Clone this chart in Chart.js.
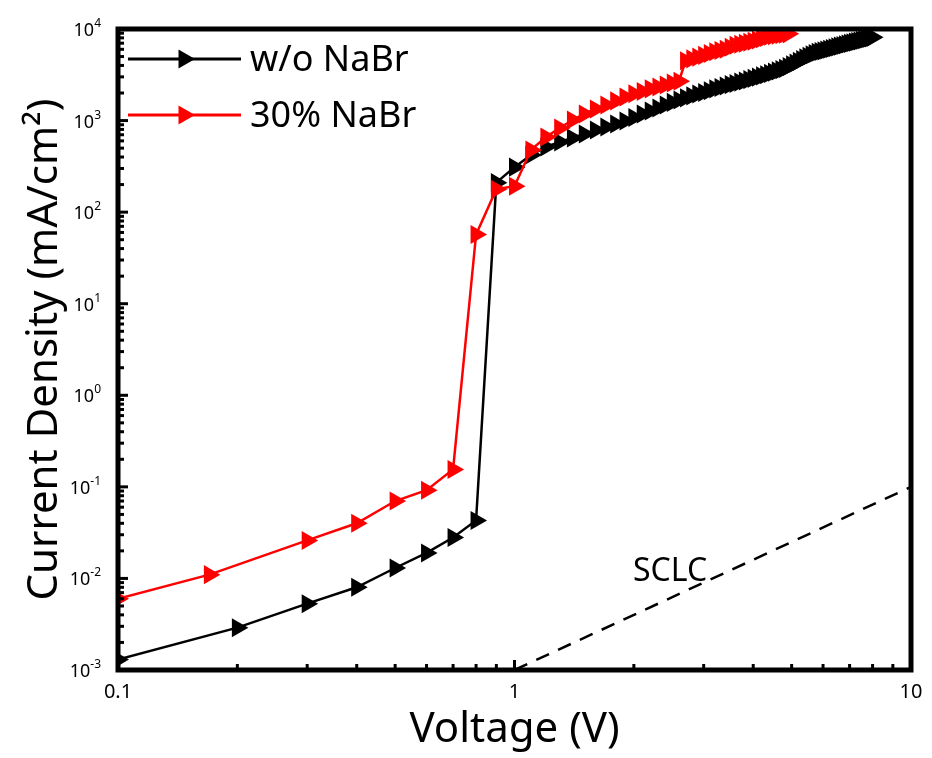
<!DOCTYPE html>
<html>
<head>
<meta charset="utf-8">
<script src="https://cdn.jsdelivr.net/npm/chart.js@4.4.0/dist/chart.umd.min.js"></script>
<style>
  html, body { margin: 0; padding: 0; background: #fff; }
  canvas { display: block; }
</style>
</head>
<body>
<canvas id="jvChart" width="932" height="758"></canvas>
<script>
// J-V curves, voltage in V, current density in mA/cm2
const voltageRef = [
  0.1, 0.2, 0.3, 0.4, 0.5, 0.6, 0.7, 0.8, 0.9,
  1.0, 1.1, 1.2, 1.3, 1.4, 1.5, 1.6, 1.7, 1.8, 1.9,
  2.0, 2.1, 2.2, 2.3, 2.4, 2.5, 2.6, 2.7, 2.8, 2.9,
  3.0, 3.1, 3.2, 3.3, 3.4, 3.5, 3.6, 3.7, 3.8, 3.9,
  4.0, 4.1, 4.2, 4.3, 4.4, 4.5, 4.6, 4.7, 4.8, 4.9,
  5.0, 5.1, 5.2, 5.3, 5.4, 5.5, 5.6, 5.7, 5.8, 5.9,
  6.0, 6.1, 6.2, 6.3, 6.4, 6.5, 6.6, 6.7, 6.8, 6.9,
  7.0, 7.1, 7.2, 7.3, 7.4, 7.5, 7.6, 7.7, 7.8, 7.9,
  8.0
];
const currentRef = [
  0.0013, 0.0029, 0.0053, 0.0080, 0.013, 0.019, 0.028, 0.043, 210,
  310, 420, 515, 583, 645, 714, 789, 851, 918, 991,
  1080, 1180, 1270, 1370, 1480, 1580, 1680, 1770, 1860, 1950,
  2030, 2120, 2220, 2300, 2390, 2470, 2545, 2630, 2710, 2800,
  2890, 2980, 3075, 3170, 3275, 3380, 3490, 3600, 3715, 3880,
  4060, 4240, 4430, 4640, 4845, 5030, 5220, 5390, 5560, 5670,
  5770, 5890, 6010, 6130, 6250, 6380, 6500, 6620, 6740, 6850,
  6970, 7080, 7190, 7300, 7410, 7520, 7640, 7760, 7880, 8000,
  8110
];

const voltageNaBr = [
  0.1, 0.17, 0.3, 0.4, 0.5, 0.6, 0.7, 0.8, 0.9,
  1.0, 1.1, 1.2, 1.3, 1.4, 1.5, 1.6, 1.7, 1.8, 1.9,
  2.0, 2.1, 2.2, 2.3, 2.4, 2.5, 2.6, 2.7, 2.8, 2.9,
  3.0, 3.1, 3.2, 3.3, 3.4, 3.5, 3.6, 3.7, 3.8, 3.9,
  4.0, 4.1, 4.2, 4.3, 4.4, 4.5, 4.6, 4.7, 4.8, 4.9
];
const currentNaBr = [
  0.0060, 0.011, 0.026, 0.040, 0.070, 0.092, 0.155, 57, 178,
  192, 477, 662, 830, 1015, 1180, 1340, 1480, 1640, 1810,
  1960, 2080, 2220, 2330, 2450, 2570, 2690, 4490, 4720, 4930,
  5150, 5390, 5630, 5810, 6000, 6310, 6630, 6800, 6980, 7160,
  7340, 7580, 7820, 8070, 8320, 8430, 8540, 8650, 8750, 8850
];

// SCLC guide line (J ~ V^2)
const sclcVoltage = [1, 10];
const sclcCurrent = [0.001, 0.1];

const seriesNames = ['w/o NaBr', '30% NaBr'];
const seriesColors = ['#000000', '#ff0000'];
const xTickValues = [0.1, 1, 10];
const xTickLabels = ['0.1', '1', '10'];
const yTickExponents = [-3, -2, -1, 0, 1, 2, 3, 4];

const FONT = "'Noto Sans', 'Open Sans', sans-serif";

function toPoints(xs, ys) {
  return xs.map((v, i) => ({ x: v, y: ys[i] }));
}

function triangle(ctx, x, y, r) {
  ctx.beginPath();
  ctx.moveTo(x + r, y);
  ctx.lineTo(x - r / 2, y - r * 0.866);
  ctx.lineTo(x - r / 2, y + r * 0.866);
  ctx.closePath();
  ctx.fill();
}

// frame, inward ticks, tick labels, legend and the SCLC note
const decorations = {
  id: 'decorations',
  afterDatasetsDraw(chart) {
    const { ctx, chartArea: a, scales: { x, y } } = chart;
    ctx.save();
    ctx.strokeStyle = '#000';
    ctx.fillStyle = '#000';
    ctx.lineWidth = 3;

    for (let e = -1; e <= 1; e++) {
      for (let m = 1; m <= 9; m++) {
        const v = m * Math.pow(10, e);
        if (v > 10) continue;
        const px = x.getPixelForValue(v);
        const len = m === 1 ? 10 : 6;
        ctx.beginPath();
        ctx.moveTo(px, a.bottom);
        ctx.lineTo(px, a.bottom - len);
        ctx.stroke();
      }
    }
    for (let e = -3; e <= 4; e++) {
      for (let m = 1; m <= 9; m++) {
        const v = m * Math.pow(10, e);
        if (v > 1e4) continue;
        const py = y.getPixelForValue(v);
        const len = m === 1 ? 10 : 6;
        ctx.beginPath();
        ctx.moveTo(a.left, py);
        ctx.lineTo(a.left + len, py);
        ctx.stroke();
      }
    }

    ctx.lineWidth = 5;
    ctx.strokeRect(a.left, a.top, a.right - a.left, a.bottom - a.top);

    // x tick labels
    ctx.font = '20px ' + FONT;
    ctx.textAlign = 'center';
    ctx.textBaseline = 'middle';
    xTickValues.forEach((v, i) => {
      ctx.fillText(xTickLabels[i], x.getPixelForValue(v), a.bottom + 22);
    });

    // y tick labels with superscript exponents
    ctx.textBaseline = 'alphabetic';
    ctx.textAlign = 'left';
    yTickExponents.forEach(p => {
      const py = y.getPixelForValue(Math.pow(10, p));
      const exp = String(p);
      ctx.font = '12px ' + FONT;
      const ew = ctx.measureText(exp).width;
      ctx.font = '18px ' + FONT;
      const bw = ctx.measureText('10').width;
      const right = a.left - 17;
      ctx.fillText('10', right - ew - bw, py + 7);
      ctx.font = '12px ' + FONT;
      ctx.fillText(exp, right - ew, py - 2);
    });

    // legend
    const legendY = [59, 115];
    seriesNames.forEach((name, i) => {
      ctx.strokeStyle = seriesColors[i];
      ctx.fillStyle = seriesColors[i];
      ctx.lineWidth = 3;
      ctx.beginPath();
      ctx.moveTo(128, legendY[i]);
      ctx.lineTo(241, legendY[i]);
      ctx.stroke();
      triangle(ctx, 184, legendY[i], 11);
      ctx.fillStyle = '#000';
      ctx.font = '36px ' + FONT;
      ctx.textBaseline = 'middle';
      ctx.fillText(name, 250, legendY[i] + 2);
    });

    ctx.font = '32px ' + FONT;
    ctx.textBaseline = 'alphabetic';
    ctx.fillText('SCLC', 633, 581);
    ctx.restore();
  }
};

const pointStyleOpts = {
  pointStyle: 'triangle',
  pointRotation: 90,
  pointRadius: 11,
  pointHoverRadius: 11,
  pointBorderWidth: 0,
  borderWidth: 2.5,
  tension: 0
};

new Chart(document.getElementById('jvChart'), {
  type: 'line',
  data: {
    datasets: [
      {
        label: seriesNames[1],
        data: toPoints(voltageNaBr, currentNaBr),
        borderColor: seriesColors[1],
        backgroundColor: seriesColors[1],
        order: 0,
        ...pointStyleOpts
      },
      {
        label: seriesNames[0],
        data: toPoints(voltageRef, currentRef),
        borderColor: seriesColors[0],
        backgroundColor: seriesColors[0],
        order: 1,
        ...pointStyleOpts
      },
      {
        label: 'SCLC',
        data: toPoints(sclcVoltage, sclcCurrent),
        borderColor: '#000',
        borderWidth: 2.5,
        borderDash: [14, 10],
        pointRadius: 0,
        order: 2
      }
    ]
  },
  options: {
    responsive: false,
    animation: false,
    devicePixelRatio: 1,
    layout: { padding: { left: 0, right: 21, top: 29, bottom: 0 } },
    plugins: {
      legend: { display: false },
      tooltip: { enabled: false }
    },
    scales: {
      x: {
        type: 'logarithmic',
        min: 0.1,
        max: 10,
        grid: { display: false },
        border: { display: false },
        ticks: { display: false },
        title: {
          display: true,
          text: 'Voltage (V)',
          color: '#000',
          font: { family: FONT, size: 42 },
          padding: { top: 0, bottom: 3 }
        },
        afterFit(scale) { scale.height = 88; }
      },
      y: {
        type: 'logarithmic',
        min: 0.001,
        max: 10000,
        grid: { display: false },
        border: { display: false },
        ticks: { display: false },
        title: {
          display: true,
          text: 'Current Density (mA/cm²)',
          color: '#000',
          font: { family: FONT, size: 42 },
          padding: { top: 20, bottom: 0 }
        },
        afterFit(scale) { scale.width = 118; }
      }
    }
  },
  plugins: [decorations]
});
</script>
</body>
</html>
